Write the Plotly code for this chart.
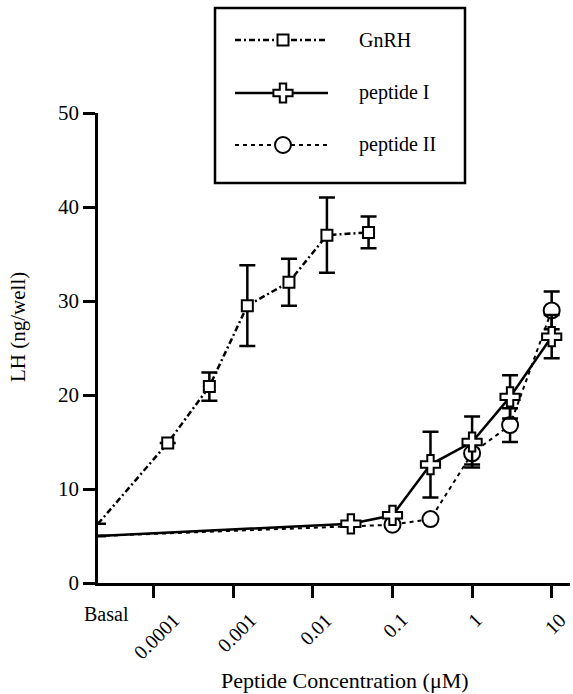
import math
import plotly.graph_objects as go

# ---------------- data ----------------
basal_x = 10 ** -4.70          # position used for the "Basal" category (left edge)

gnrh_basal = 6.3
gnrh_conc = [0.00015, 0.0005, 0.0015, 0.005, 0.015, 0.05]
gnrh_lh = [14.9, 20.9, 29.5, 32.0, 37.0, 37.3]
gnrh_err = [0, 1.5, 4.3, 2.5, 4.0, 1.7]

pep1_basal = 5.0
pep1_conc = [0.03, 0.1, 0.3, 1, 3, 10]
pep1_lh = [6.3, 7.2, 12.6, 15.0, 19.8, 26.2]
pep1_err = [0, 0, 3.5, 2.7, 2.3, 2.3]

pep2_basal = 5.0
pep2_conc = [0.1, 0.3, 1, 3, 10]
pep2_lh = [6.2, 6.8, 13.8, 16.8, 29.0]
pep2_err = [0, 0, 1.2, 1.8, 2.0]

tick_vals = [0.0001, 0.001, 0.01, 0.1, 1, 10]
tick_text = ["0.0001", "0.001", "0.01", "0.1", "1", "10"]
y_ticks = [0, 10, 20, 30, 40, 50]

series_names = ["GnRH", "peptide I", "peptide II"]
x_title = "Peptide Concentration (μM)"
y_title = "LH (ng/well)"
basal_label = "Basal"

FONT = "Liberation Serif"
W, H = 573, 694
ML, MR, MT, MB = 98, 3, 5, 111
PW = W - ML - MR
PH = H - MT - MB
AX_BOTTOM = H - MB


def px_x(px):
    return (px - ML) / PW


def px_y(py):
    return (AX_BOTTOM - py) / PH


def with_basal(bx, by, xs, ys, es):
    x = [bx] + list(xs)
    y = [by] + list(ys)
    e = [0] + list(es)
    op = [0] + [1] * len(xs)
    return x, y, e, op


fig = go.Figure()

styles = {
    "GnRH": dict(dash="6px,3px,2px,3px", width=2.5, symbol="square", size=11),
    "peptide I": dict(dash="solid", width=2.5, symbol="cross", size=16),
    "peptide II": dict(dash="4px,4px", width=2, symbol="circle", size=16),
}

datasets = {
    "GnRH": (gnrh_basal, gnrh_conc, gnrh_lh, gnrh_err),
    "peptide II": (pep2_basal, pep2_conc, pep2_lh, pep2_err),
    "peptide I": (pep1_basal, pep1_conc, pep1_lh, pep1_err),
}

for name, (b, xs, ys, es) in datasets.items():
    st = styles[name]
    x, y, e, op = with_basal(basal_x, b, xs, ys, es)
    fig.add_trace(go.Scatter(
        x=x, y=y, name=name, mode="lines+markers",
        line=dict(color="black", width=st["width"], dash=st["dash"]),
        marker=dict(symbol=st["symbol"], size=st["size"], color="white",
                    opacity=op, line=dict(color="black", width=2)),
        error_y=dict(type="data", array=e, visible=True, color="black",
                     thickness=2.5, width=8),
        showlegend=False,
    ))

# ---------------- legend box (overlay axes) ----------------
box_l, box_r, box_t, box_b = 215, 465, 8, 183
row_y = [32, 85, 137]
for name, ry in zip(series_names, row_y):
    st = styles[name]
    fig.add_trace(go.Scatter(
        x=[20, 113], y=[ry, ry], mode="lines", xaxis="x2", yaxis="y2",
        line=dict(color="black", width=st["width"], dash=st["dash"]),
        showlegend=False, hoverinfo="skip"))
    fig.add_trace(go.Scatter(
        x=[68], y=[ry], mode="markers", xaxis="x2", yaxis="y2",
        marker=dict(symbol=st["symbol"], size=st["size"], color="white",
                    line=dict(color="black", width=2)),
        showlegend=False, hoverinfo="skip"))
    fig.add_annotation(x=142, y=ry, xref="x2", yref="y2", text=name,
                       showarrow=False, xanchor="left", yanchor="middle",
                       font=dict(family=FONT, size=20, color="black"))

fig.add_shape(type="rect", xref="x2 domain", yref="y2 domain",
              x0=0, x1=1, y0=0, y1=1, line=dict(color="black", width=2.5))

# ---------------- axis labels ----------------
# rotated log tick labels, centred under each tick
for v, t in zip(tick_vals, tick_text):
    fig.add_annotation(x=math.log10(v), y=px_y(606), xref="x", yref="paper",
                       text=t, showarrow=False, textangle=-45,
                       xanchor="center", yanchor="top", xshift=3,
                       font=dict(family=FONT, size=20, color="black"))

# "Basal" label (horizontal)
fig.add_annotation(x=px_x(106), y=px_y(614), xref="paper", yref="paper",
                   text=basal_label, showarrow=False,
                   xanchor="center", yanchor="middle",
                   font=dict(family=FONT, size=20, color="black"))

fig.add_annotation(x=px_x(345), y=px_y(680), xref="paper", yref="paper",
                   text=x_title, showarrow=False,
                   xanchor="center", yanchor="middle",
                   font=dict(family=FONT, size=22, color="black"))

fig.add_annotation(x=px_x(18), y=px_y(327), xref="paper", yref="paper",
                   text=y_title, showarrow=False, textangle=-90,
                   xanchor="center", yanchor="middle",
                   font=dict(family=FONT, size=21, color="black"))

fig.update_layout(
    width=W, height=H,
    margin=dict(l=ML, r=MR, t=MT, b=MB, autoexpand=False),
    paper_bgcolor="white", plot_bgcolor="white",
    font=dict(family=FONT, size=20, color="black"),
    xaxis=dict(
        type="log", range=[-4.70, 1.23],
        tickvals=tick_vals, showticklabels=False,
        ticks="outside", ticklen=12, tickwidth=2.5, tickcolor="black",
        showline=True, linecolor="black", linewidth=2.5,
        showgrid=False, zeroline=False, automargin=False,
    ),
    yaxis=dict(
        range=[0, 50], domain=[0, px_y(113)],
        tickvals=y_ticks,
        ticks="outside", ticklen=12, tickwidth=2.5, tickcolor="black",
        showline=True, linecolor="black", linewidth=2.5,
        showgrid=False, zeroline=False, automargin=False,
        tickfont=dict(family=FONT, size=21),
    ),
    xaxis2=dict(domain=[px_x(box_l), px_x(box_r)], range=[0, 250],
                visible=False, anchor="y2", fixedrange=True),
    yaxis2=dict(domain=[px_y(box_b), px_y(box_t)], range=[175, 0],
                visible=False, anchor="x2", fixedrange=True),
)

fig.write_html("out.html")
